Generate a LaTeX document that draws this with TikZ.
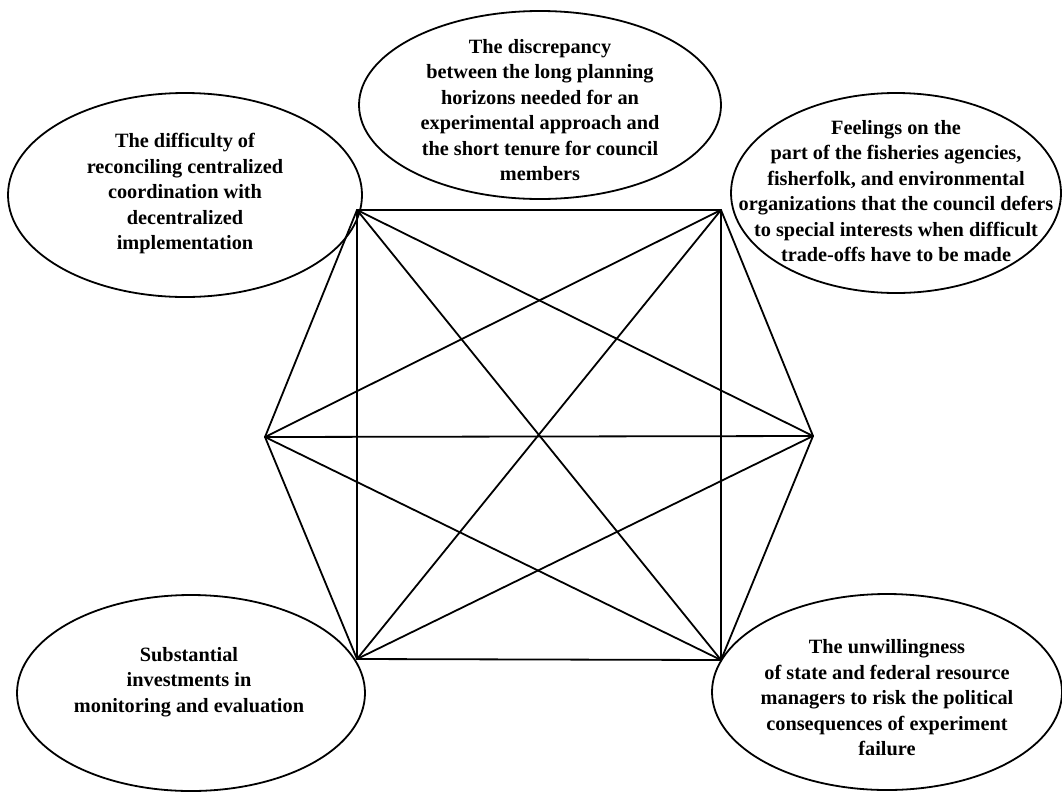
\documentclass[tikz,border=0pt]{standalone}
\usepackage{fontspec}
\setmainfont{Liberation Serif}
\begin{document}
\begin{tikzpicture}[x=1pt,y=-1pt,
  edge/.style={line width=1.8pt, line cap=round, line join=round},
  bubble/.style={draw, line width=1.8pt},
  caption/.style={align=center, font=\bfseries\fontsize{20.3}{25.5}\selectfont, inner sep=0pt}]
  \useasboundingbox (0,0) rectangle (1062,793);

  % corners of the complete graph
  \coordinate (tl) at (357,210);
  \coordinate (tr) at (721,210);
  \coordinate (lf) at (265,437);
  \coordinate (rt) at (813,436);
  \coordinate (bl) at (357,659);
  \coordinate (br) at (721,660);

  % every pair of corners is joined
  \foreach \a/\b in {tl/tr, tr/br, br/bl, bl/tl,
                     tl/lf, lf/bl, tr/rt, rt/br,
                     tl/br, tr/bl, lf/rt,
                     lf/tr, lf/br, rt/tl, rt/bl}
    \draw[edge] (\a) -- (\b);

  % ellipse centres
  \coordinate (ctl) at (185,195);
  \coordinate (ctop) at (540,105);
  \coordinate (ctr) at (896,193);
  \coordinate (cbl) at (191,693);
  \coordinate (cbr) at (887,692);

  \draw[bubble] (ctl) ellipse [x radius=177pt, y radius=102pt];
  \draw[bubble] (ctop) ellipse [x radius=181pt, y radius=94pt];
  \draw[bubble] (ctr) ellipse [x radius=165pt, y radius=100pt];
  \draw[bubble] (cbl) ellipse [x radius=174pt, y radius=98pt];
  \draw[bubble] (cbr) ellipse [x radius=175pt, y radius=98pt];

  \node[caption] (ttl) at (185,194) {The difficulty of\\reconciling centralized\\coordination with\\decentralized\\implementation};
  \node[caption] (ttop) at (540,110) {The discrepancy\\between the long planning\\horizons needed for an\\experimental approach and\\the short tenure for council\\members};
  \node[caption] (ttr) at (896,191) {Feelings on the\\part of the fisheries agencies,\\fisherfolk, and environmental\\organizations that the council defers\\to special interests when difficult\\trade-offs have to be made};
  \node[caption] (tbl) at (189,682) {Substantial\\investments in\\monitoring and evaluation};
  \node[caption] (tbr) at (887,698) {The unwillingness\\of state and federal resource\\managers to risk the political\\consequences of experiment\\failure};
\end{tikzpicture}
\end{document}
